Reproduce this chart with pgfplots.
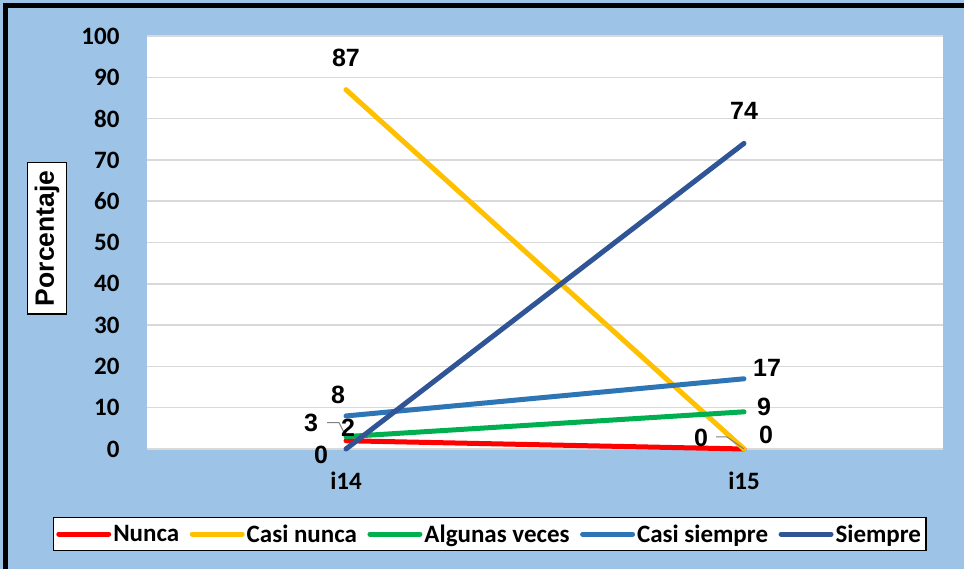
\documentclass[border=0pt]{standalone}
\usepackage{pgfplots}
\pgfplotsset{compat=1.18}
\usepackage{pgfplotstable}
\usepackage{fontspec}
\setmainfont{Carlito}
\newfontfamily\arialfont{Liberation Sans}

\definecolor{bgblue}{HTML}{9DC3E6}
\definecolor{cNunca}{HTML}{FF0000}
\definecolor{cCasiNunca}{HTML}{FFC000}
\definecolor{cAlgunas}{HTML}{00B050}
\definecolor{cCasiSiempre}{HTML}{2E75B6}
\definecolor{cSiempre}{HTML}{2F5597}
\definecolor{gridgray}{HTML}{D9D9D9}

% x y dx dy  (dx, dy: label offset in pt)
\pgfplotstableread{
x y dx dy
0 2 2 13
1 0 -43 11
}\nunca
\pgfplotstableread{
x y dx dy
0 87 0 32
1 0 22 14
}\casinunca
\pgfplotstableread{
x y dx dy
0 3 -35 14
1 9 20 5
}\algunas
\pgfplotstableread{
x y dx dy
0 8 -8 21
1 17 23 11
}\casisiempre
\pgfplotstableread{
x y dx dy
0 0 -25 -6
1 74 0 32
}\siempre

\pgfplotsset{
  lbl/.style={
    nodes near coords,
    visualization depends on={\thisrow{dx} \as \dx},
    visualization depends on={\thisrow{dy} \as \dy},
    every node near coord/.append style={
      anchor=center, xshift=\dx pt, yshift=\dy pt,
      font=\arialfont\bfseries\fontsize{25}{25}\selectfont, text=black},
  },
}

\begin{document}
\begin{tikzpicture}
\path[use as bounding box] (0pt,0pt) rectangle (964pt,569pt);
\fill[bgblue] (0pt,0pt) rectangle (964pt,569pt);
\draw[black, line width=5pt] (5.5pt,0pt) -- (5.5pt,563.5pt) -- (964pt,563.5pt);
\begin{axis}[
  at={(147pt,120pt)}, anchor=south west,
  scale only axis,
  width=796pt, height=413pt,
  xmin=-0.5, xmax=1.5,
  ymin=0, ymax=100,
  xtick={0,1}, xticklabels={i14,i15},
  ytick distance=10,
  ymajorgrids=true,
  grid style={gridgray, line width=1.5pt},
  axis background/.style={fill=white},
  axis line style={draw=none},
  tick style={draw=none},
  clip=false,
  /pgf/number format/assume math mode=true,
  ticklabel style={font=\bfseries\fontsize{25}{25}\selectfont},
  xticklabel style={yshift=-19pt},
  yticklabel style={xshift=-24pt},
  ylabel={Porcentaje},
  every axis y label/.style={
    at={(axis description cs:-0.1255,0.51)}, rotate=90, anchor=center,
    draw=black, line width=1.5pt, fill=white, inner xsep=8pt, inner ysep=7pt,
    font=\arialfont\bfseries\fontsize{26.5}{26.5}\selectfont},
  legend columns=5,
  legend style={
    at={(axis description cs:0.4305,-0.206)}, anchor=center,
    draw=black, line width=1.5pt, fill=white,
    font=\bfseries\fontsize{25}{25}\selectfont,
    inner xsep=3pt, inner ysep=5pt,
    /tikz/every even column/.append style={column sep=8.5pt},
  },
  legend image code/.code={
    \draw[#1, line width=5pt, line cap=round] (0pt,0pt) -- (50pt,0pt);
  },
  every axis plot/.append style={line width=5pt, line cap=round, mark=none},
]
\addplot[cNunca, lbl] table[x=x, y=y] {\nunca};
\addlegendentry{Nunca}
\addplot[cCasiNunca, lbl] table[x=x, y=y] {\casinunca};
\addlegendentry{Casi nunca}
\addplot[cAlgunas, lbl] table[x=x, y=y] {\algunas};
\addlegendentry{Algunas veces}
\addplot[cCasiSiempre, lbl] table[x=x, y=y] {\casisiempre};
\addlegendentry{Casi siempre}
\addplot[cSiempre, lbl] table[x=x, y=y] {\siempre};
\addlegendentry{Siempre}
% leader lines of the two displaced labels
\draw[gray, line width=1pt] ([xshift=-19pt,yshift=14pt]axis cs:0,3) -- ++(12pt,0pt) -- (axis cs:0,3);
\draw[gray, line width=1pt] ([xshift=-28pt,yshift=12pt]axis cs:1,0) -- ++(11pt,0pt) -- (axis cs:1,0);
\end{axis}
\end{tikzpicture}
\end{document}
